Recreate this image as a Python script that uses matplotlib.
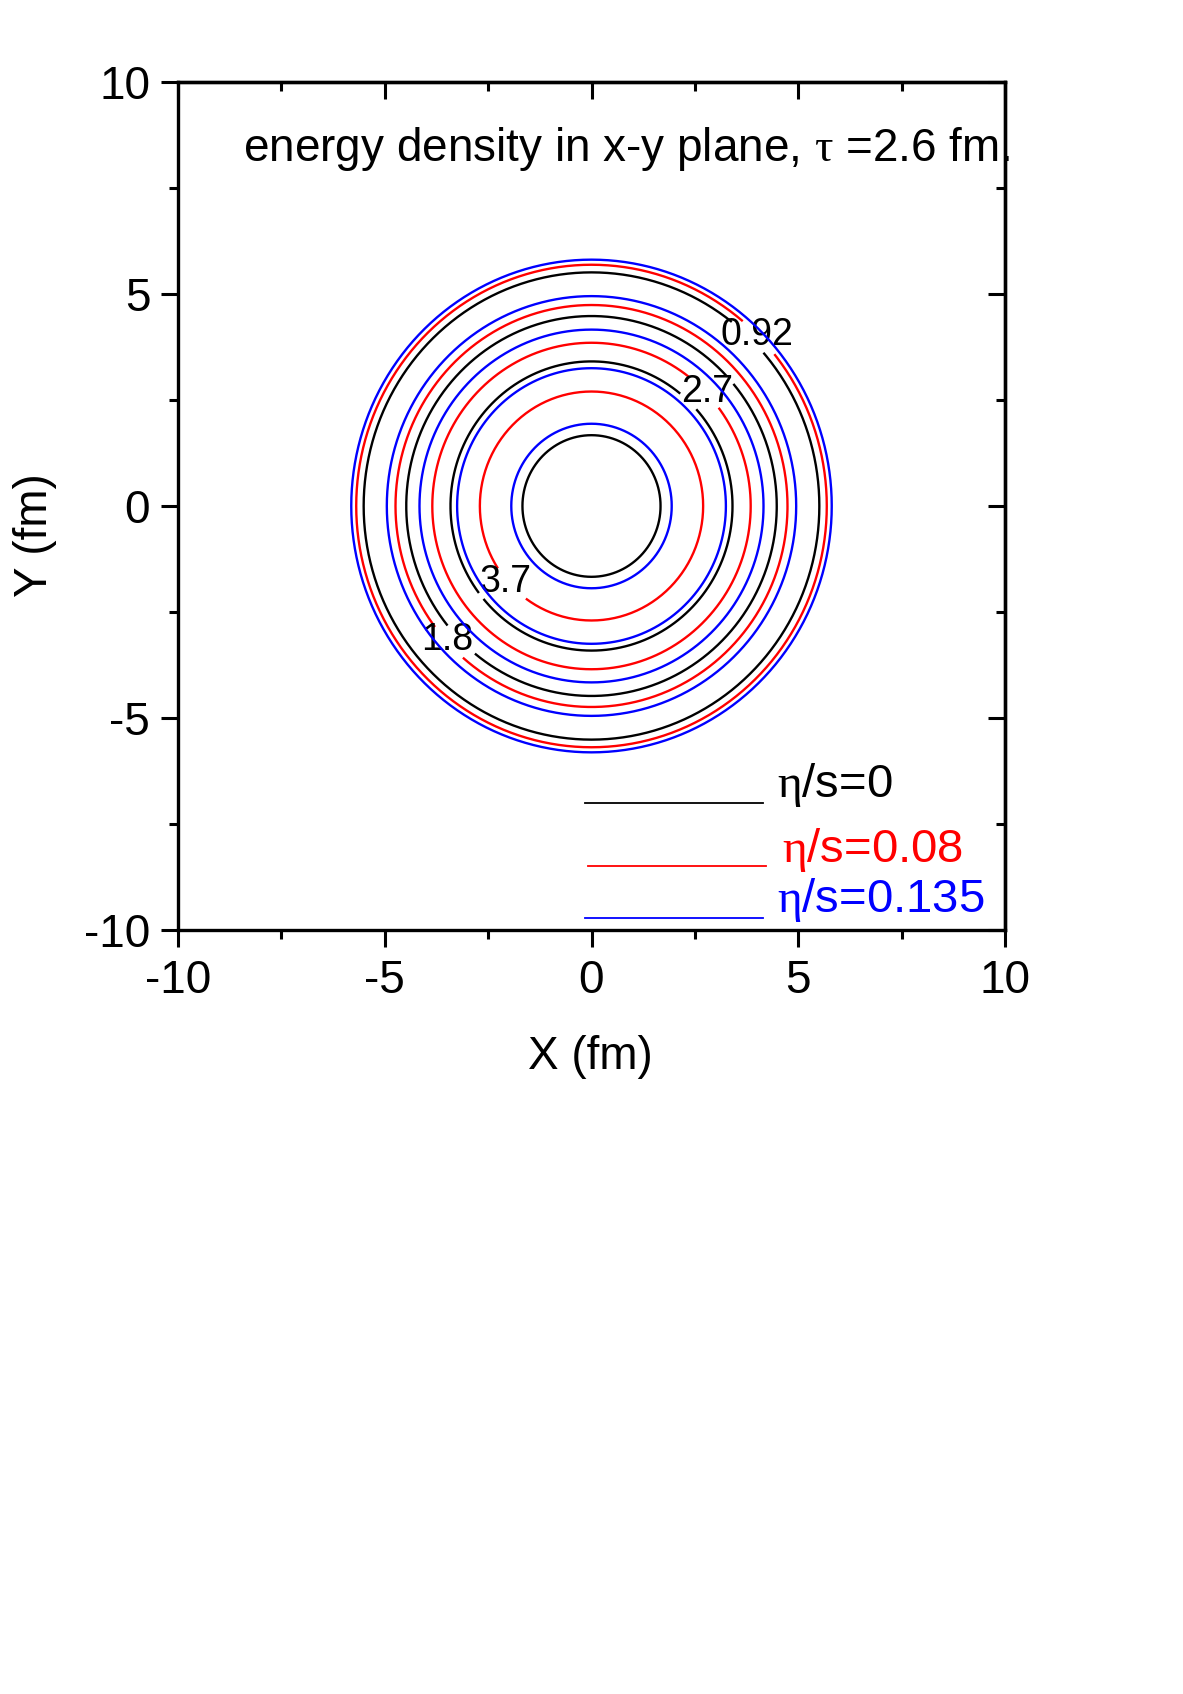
import numpy as np
import matplotlib
matplotlib.use('Agg')
import matplotlib.pyplot as plt
from matplotlib.ticker import MultipleLocator

plt.rcParams['font.family'] = ['Liberation Sans', 'DejaVu Sans']
plt.rcParams['mathtext.fontset'] = 'custom'
plt.rcParams['mathtext.rm'] = 'Liberation Sans'
plt.rcParams['mathtext.it'] = 'Liberation Serif'
plt.rcParams['mathtext.bf'] = 'Liberation Sans:bold'
plt.rcParams['axes.unicode_minus'] = False

# ---------------- data ----------------
series_labels = [r'$\eta$/s=0', r'$\eta$/s=0.08', r'$\eta$/s=0.135']
series_colors = ['#000000', '#ff0000', '#0000ff']
# radii (fm) of the iso-energy-density contours for each viscosity
radii_eta0 = [1.67, 3.41, 4.48, 5.51]
radii_eta008 = [2.70, 3.85, 4.74, 5.69]
radii_eta0135 = [1.94, 3.25, 4.16, 4.95, 5.81]
contour_label_text = ['0.92', '1.8', '2.7', '3.7']
tick_values = [-10, -5, 0, 5, 10]
title_text = r'energy density in x-y plane, $\tau$ =2.6 fm.'

# ---------------- figure ----------------
W, H = 1183, 1694
fig = plt.figure(figsize=(W / 100, H / 100), dpi=100)
L, R, T, B = 178, 1005, 82, 930
ax = fig.add_axes([L / W, 1 - B / H, (R - L) / W, (B - T) / H])
ax.set_xlim(-10, 10)
ax.set_ylim(-10, 10)

lw_spine = 2.4
for s in ax.spines.values():
    s.set_linewidth(lw_spine)

ax.set_xticks(tick_values)
ax.set_yticks(tick_values)
ax.set_xticklabels([str(v) for v in tick_values])
ax.set_yticklabels([str(v) for v in tick_values])
ax.xaxis.set_minor_locator(MultipleLocator(2.5))
ax.yaxis.set_minor_locator(MultipleLocator(2.5))
ax.tick_params(which='major', direction='out', length=12, width=2.2,
               labelsize=33)
ax.tick_params(which='minor', direction='out', length=6.5, width=2.2)
ax.tick_params(axis='x', which='major', pad=9)
ax.tick_params(axis='y', which='major', pad=8)

secx = ax.secondary_xaxis('top')
secx.set_xticks(tick_values)
secx.xaxis.set_minor_locator(MultipleLocator(2.5))
secx.tick_params(which='major', direction='in', length=12, width=2.2, labeltop=False)
secx.tick_params(which='minor', direction='in', length=6.5, width=2.2)
secx.spines['top'].set_linewidth(lw_spine)

secy = ax.secondary_yaxis('right')
secy.set_yticks(tick_values)
secy.yaxis.set_minor_locator(MultipleLocator(2.5))
secy.tick_params(which='major', direction='in', length=12, width=2.2, labelright=False)
secy.tick_params(which='minor', direction='in', length=6.5, width=2.2)
secy.spines['right'].set_linewidth(lw_spine)

# contour labels (text), placed on the eta/s=0.08 contours
label_positions = [(4.0, 4.03), (-3.50, -3.16), (2.79, 2.70), (-2.09, -1.79)]
label_texts = []
for txt, (lx, ly) in zip(contour_label_text, label_positions):
    t = ax.text(lx, ly, txt, fontsize=27, ha='center', va='center',
                color='black', zorder=3)
    label_texts.append(t)

fig.canvas.draw()
renderer = fig.canvas.get_renderer()
inv = ax.transData.inverted()
boxes = []
for t in label_texts:
    bb = t.get_window_extent(renderer)
    (x0, y0), (x1, y1) = inv.transform([[bb.x0, bb.y0], [bb.x1, bb.y1]])
    boxes.append((x0, x1, y0 + 0.05, y1 - 0.12))

theta = np.linspace(0, 2 * np.pi, 361)


def draw_rings(radii, color, gapped, z):
    for r in radii:
        x = r * np.cos(theta)
        y = r * np.sin(theta)
        if gapped:
            m = np.zeros_like(x, dtype=bool)
            for (x0, x1, y0, y1) in boxes:
                m |= (x > x0) & (x < x1) & (y > y0) & (y < y1)
            x = np.where(m, np.nan, x)
            y = np.where(m, np.nan, y)
        ax.plot(x, y, color=color, lw=1.7, zorder=z, solid_capstyle='butt')


draw_rings(radii_eta0, series_colors[0], True, 2)
draw_rings(radii_eta008, series_colors[1], True, 2)
draw_rings(radii_eta0135, series_colors[2], False, 4)

# legend (drawn manually like the original)
leg_line_x = [(-0.16, 4.15), (-0.08, 4.23), (-0.16, 4.15)]
leg_line_y = [-7.0, -8.5, -9.72]
leg_text_x = [4.48, 4.6, 4.48]
leg_text_y = [-6.86, -8.40, -9.58]
for i in range(3):
    ax.plot(leg_line_x[i], [leg_line_y[i]] * 2, color=series_colors[i], lw=1.3)
    ax.text(leg_text_x[i], leg_text_y[i], series_labels[i], color=series_colors[i],
            fontsize=34, ha='left', va='baseline')

# title inside axes
ax.text(-8.42, 8.13, title_text, fontsize=33, ha='left', va='baseline')

fig.text(590 / W, 1 - 1057 / H, 'X (fm)', fontsize=33, ha='center', va='center')
fig.text(35 / W, 1 - 535 / H, 'Y (fm)', fontsize=33, ha='center', va='center',
         rotation=90)

fig.savefig('out.png', dpi=100)
